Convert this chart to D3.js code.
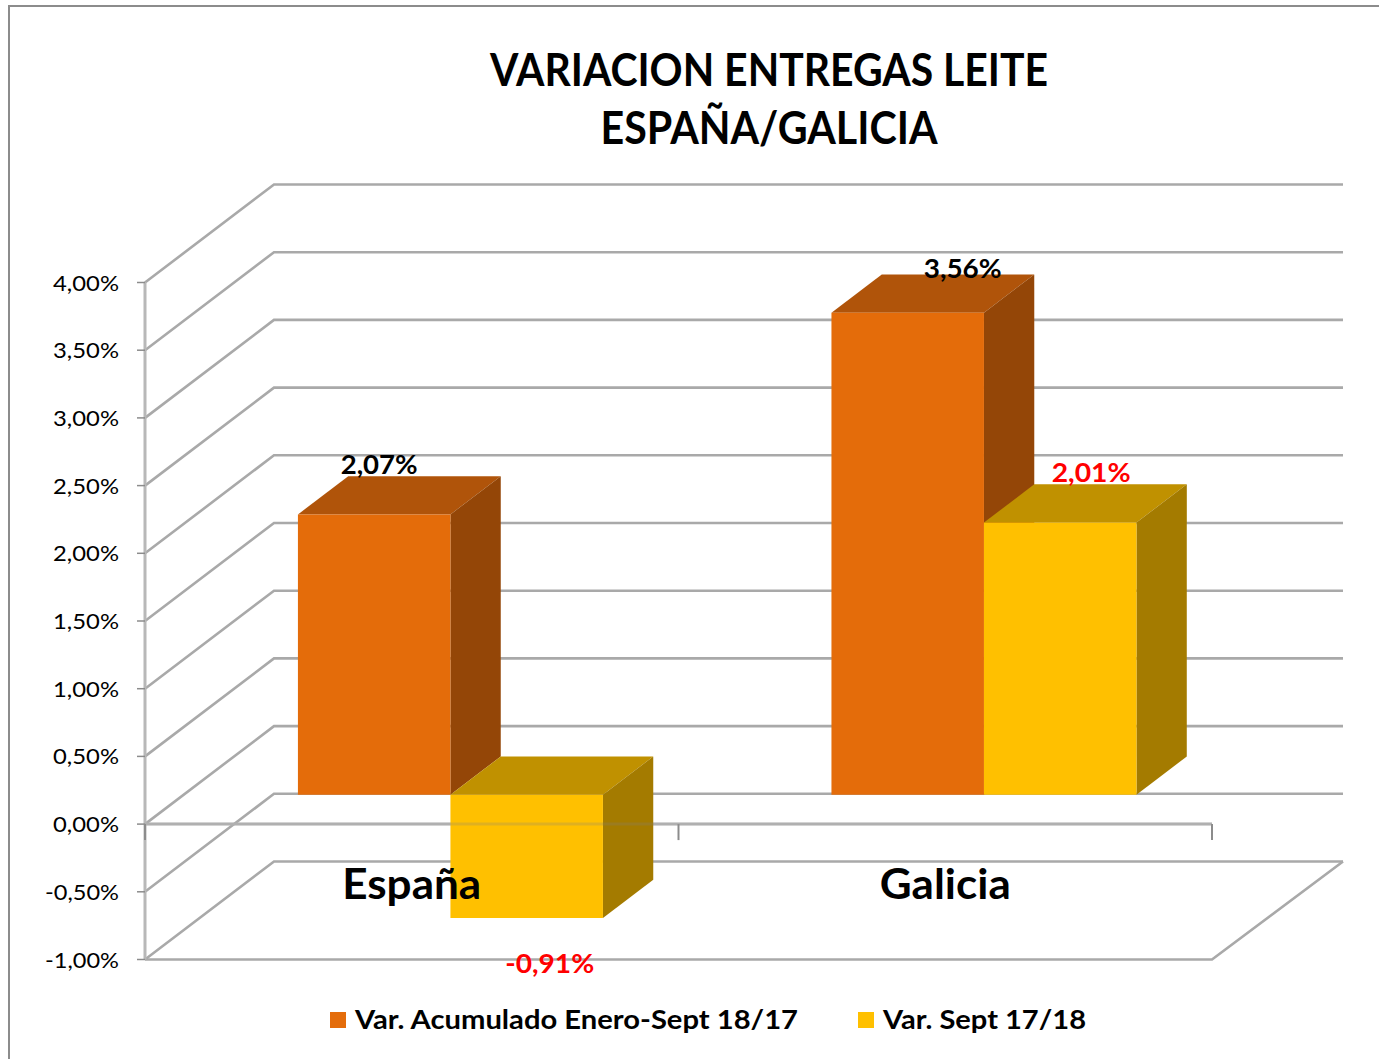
<!DOCTYPE html>
<html>
<head>
<meta charset="utf-8">
<script src="https://cdn.jsdelivr.net/npm/d3@7"></script>
<style>
  html, body { margin: 0; padding: 0; background: #fff; }
  svg { display: block; }
  text { font-family: Lato, "Open Sans", sans-serif; }
</style>
</head>
<body>
<div id="chart"></div>
<script>
// ---- data ----
const titleLines = ["VARIACION ENTREGAS LEITE", "ESPAÑA/GALICIA"];
const categories = ["España", "Galicia"];
const seriesNames = ["Var. Acumulado Enero-Sept 18/17", "Var. Sept 17/18"];
const acumulado = [0.0207, 0.0356];
const septiembre = [-0.0091, 0.0201];
const yTicks = [-0.01, -0.005, 0, 0.005, 0.01, 0.015, 0.02, 0.025, 0.03, 0.035, 0.04];

// ---- styling / layout ----
const W = 1379, H = 1059;
const seriesFront = ["#E46C0A", "#FFC000"];
const seriesTop   = ["#B0540A", "#C09100"];
const seriesSide  = ["#944607", "#A47B00"];
const labelColor  = ["#000000", "#FF0000"];
// per-point label nudges [series][category] = [dx, dy]
const labelNudge = [[[5, -2], [55, 4]], [[23, 55], [31, -2]]];

const locale = d3.formatLocale({decimal: ",", thousands: ".", grouping: [3], currency: ["", "€"], minus: "-", percent: "%"});
const fmt = locale.format(".2%");

const svg = d3.select("#chart").append("svg").attr("width", W).attr("height", H);

// outer border
svg.append("path").attr("d", `M9,${H + 2} L9,6 L${W + 2},6`)
  .attr("fill", "none").attr("stroke", "#8c8c8c").attr("stroke-width", 2);

// scales
const y = d3.scaleLinear().domain([-0.01, 0.04]).range([959.5, 282.5]);
const x0 = d3.scaleBand().domain(categories).range([145, 1212])
  .paddingInner(0.4283).paddingOuter(0.2141);
const x1 = d3.scaleBand().domain(seriesNames).range([0, x0.bandwidth()]);
const DX = 129, DY = -98;      // full depth vector
const z0 = 0.30, z1 = 0.69;    // bar depth range
const P = (xx, v, z) => [xx + z * DX, y(v) + z * DY];
const line = pts => "M" + pts.map(p => p.join(",")).join("L");
const poly = pts => line(pts) + "Z";

const xL = x0.range()[0], xR = x0.range()[1];
const grid = svg.append("g").attr("fill", "none").attr("stroke", "#a9a9a9").attr("stroke-width", 2.6);

// side wall diagonals + back wall gridlines
yTicks.forEach(t => {
  grid.append("path").attr("d", line([P(xL, t, 0), P(xL, t, 1), P(xR + 2, t, 1)]));
});
// floor front edge and right diagonal
grid.append("path").attr("d", line([P(xL, -0.01, 0), P(xR, -0.01, 0), P(xR + 2, -0.01, 1)]));

// vertical axis line
svg.append("path").attr("d", line([P(xL, 0.04, 0), P(xL, -0.01, 0)]))
  .attr("stroke", "#b8b8b8").attr("stroke-width", 3).attr("fill", "none");
// category axis (zero) below bars
svg.append("path").attr("d", line([P(xL, 0, 0), P(xR, 0, 0)]))
  .attr("stroke", "#c0c0c0").attr("stroke-width", 3).attr("fill", "none");

// y ticks and labels
const yAxisG = svg.append("g");
yTicks.forEach(t => {
  const [px, py] = P(xL, t, 0);
  yAxisG.append("line").attr("x1", px - 8).attr("x2", px).attr("y1", py).attr("y2", py)
    .attr("stroke", "#8c8c8c").attr("stroke-width", 1.5);
  yAxisG.append("text").attr("x", px - 26).attr("y", py + 8)
    .attr("text-anchor", "end").attr("font-size", 22).attr("fill", "#000")
    .attr("textLength", t < 0 ? 74 : 66).attr("lengthAdjust", "spacingAndGlyphs")
    .text(fmt(t));
});

// bars
const values = [acumulado, septiembre];
const barsG = svg.append("g");
categories.forEach((cat, i) => {
  seriesNames.forEach((s, j) => {
    const v = values[j][i];
    const xl = x0(cat) + x1(s), xr = xl + x1.bandwidth();
    const top = Math.max(0, v), bot = Math.min(0, v);
    const g = barsG.append("g");
    g.append("path").attr("d", poly([P(xl, top, z0), P(xr, top, z0), P(xr, top, z1), P(xl, top, z1)]))
      .attr("fill", seriesTop[j]);
    g.append("path").attr("d", poly([P(xr, top, z0), P(xr, top, z1), P(xr, bot, z1), P(xr, bot, z0)]))
      .attr("fill", seriesSide[j]);
    g.append("path").attr("d", poly([P(xl, top, z0), P(xr, top, z0), P(xr, bot, z0), P(xl, bot, z0)]))
      .attr("fill", seriesFront[j]);
  });
});

// zero axis line faintly over bars, and category ticks
svg.append("path").attr("d", line([P(xL, 0, 0), P(xR, 0, 0)]))
  .attr("stroke", "#808080").attr("stroke-opacity", 0.25).attr("stroke-width", 3).attr("fill", "none");
const catTicks = [xL, ...categories.slice(1).map(c => x0(c) - x0.step() * x0.paddingInner() / 2), xR];
catTicks.forEach(tx => {
  const [px, py] = P(tx, 0, 0);
  svg.append("line").attr("x1", px).attr("x2", px).attr("y1", py).attr("y2", py + 16)
    .attr("stroke", "#8c8c8c").attr("stroke-width", 2);
});

// category labels
const catWidths = [139, 131];
categories.forEach((cat, i) => {
  svg.append("text").attr("x", x0(cat) + x0.bandwidth() / 2).attr("y", 899)
    .attr("text-anchor", "middle").attr("font-size", 42).attr("font-weight", 700)
    .attr("textLength", catWidths[i]).attr("lengthAdjust", "spacingAndGlyphs")
    .text(cat);
});

// data labels
const labelWidths = [[77, 78], [89, 79]];
categories.forEach((cat, i) => {
  seriesNames.forEach((s, j) => {
    const v = values[j][i];
    const xl = x0(cat) + x1(s), xr = xl + x1.bandwidth();
    const cx = (xl + xr) / 2 + z0 * DX;
    let by;
    if (v >= 0) by = P(xl, v, z1)[1];
    else by = P(xl, v, z0)[1];
    const [ndx, ndy] = labelNudge[j][i];
    svg.append("text").attr("x", cx + ndx).attr("y", by + ndy)
      .attr("text-anchor", "middle").attr("font-size", 27).attr("font-weight", 700)
      .attr("fill", labelColor[j])
      .attr("textLength", labelWidths[j][i]).attr("lengthAdjust", "spacingAndGlyphs")
      .text(fmt(v));
  });
});

// title
const titleWidths = [558, 337];
titleLines.forEach((t, k) => {
  svg.append("text").attr("x", 769).attr("y", 86 + k * 58)
    .attr("text-anchor", "middle").attr("font-size", 46).attr("font-weight", 700)
    .attr("textLength", titleWidths[k]).attr("lengthAdjust", "spacingAndGlyphs")
    .text(t);
});

// legend
const legX = [330, 858], legW = [443, 203];
seriesNames.forEach((s, j) => {
  svg.append("rect").attr("x", legX[j]).attr("y", 1012).attr("width", 16).attr("height", 16)
    .attr("fill", seriesFront[j]);
  svg.append("text").attr("x", legX[j] + 25).attr("y", 1029)
    .attr("font-size", 27).attr("font-weight", 700)
    .attr("textLength", legW[j]).attr("lengthAdjust", "spacingAndGlyphs")
    .text(s);
});
</script>
</body>
</html>
